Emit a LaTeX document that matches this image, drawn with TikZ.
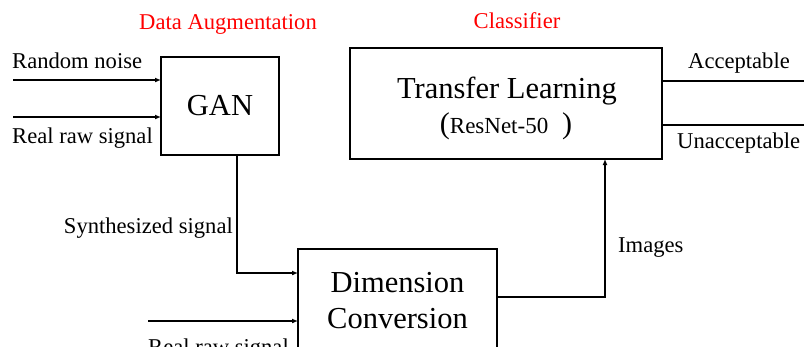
\documentclass[tikz,border=0pt]{standalone}
\usepackage{fontspec}
\setmainfont{Liberation Serif}
\usetikzlibrary{arrows.meta}
\begin{document}
\begin{tikzpicture}[x=1pt,y=-1pt,
  box/.style={draw,line width=1.8pt,inner sep=0pt,outer sep=0pt,font=\fontsize{30}{36}\selectfont,align=center},
  lbl/.style={inner sep=0pt,font=\fontsize{22.6}{27}\selectfont},
  big/.style={inner sep=0pt,font=\fontsize{30.5}{36}\selectfont},
  ttl/.style={inner sep=0pt,font=\fontsize{22.6}{27}\selectfont,text=red},
  conn/.style={line width=1.8pt},
  arr/.style={conn,-{Latex[length=6pt,width=5pt]}}]
\useasboundingbox (0,0) rectangle (804,346);
\clip (0,0) rectangle (804,346);
% boxes
\node[box,minimum width=118pt,minimum height=98pt,font=\fontsize{30.5}{36}\selectfont] (gan) at (220,106) {GAN};
\node[box,minimum width=312pt,minimum height=111pt] (tl) at (506,103.5) {};
\node[big,anchor=base] (tlt) at (507,98) {Transfer Learning};
\node[lbl,anchor=base,font=\fontsize{23}{28}\selectfont] (tlr) at (506,133) {{\fontsize{30}{36}\selectfont(}ResNet-50\hspace{0.6em}{\fontsize{30}{36}\selectfont)}};
\node[box,minimum width=199pt,minimum height=111pt] (dc) at (397.5,304.5) {};
\node[big,anchor=base] (dc1) at (397.5,292) {Dimension};
\node[big,anchor=base] (dc2) at (397.5,328) {Conversion};
% titles
\node[ttl,anchor=base west] (da) at (139,29) {Data Augmentation};
\node[ttl,anchor=base] (cl) at (517,28) {Classifier};
% labels
\node[lbl,anchor=base west] (rn) at (12,68) {Random noise};
\node[lbl,anchor=base west] (rr1) at (12,143) {Real raw signal};
\node[lbl,anchor=base east] (ss) at (233,233) {Synthesized signal};
\node[lbl,anchor=base west] (im) at (618,252) {Images};
\node[lbl,anchor=base west] (ac) at (688,68) {Acceptable};
\node[lbl,anchor=base west] (ua) at (677,148) {Unacceptable};
\node[lbl,anchor=base west] (rr2) at (148,354) {Real raw signal};
% connector end points
\coordinate (in1) at (13,80);
\coordinate (in2) at (13,117);
\coordinate (in3) at (148,321);
\coordinate (o1) at (804,81);
\coordinate (o2) at (804,125);
\coordinate (gs) at (237,155);
% connectors
\draw[arr] (in1) -- (in1 -| gan.west);
\draw[arr] (in2) -- (in2 -| gan.west);
\draw[arr] (in3) -- (in3 -| dc.west);
\draw[arr] (gs) |- (dc.west |- 0,273);
\draw[arr] (dc.east |- 0,297) -| (tl.south -| 605,0);
\draw[conn] (o1 -| tl.east) -- (o1);
\draw[conn] (o2 -| tl.east) -- (o2);
\end{tikzpicture}
\end{document}
